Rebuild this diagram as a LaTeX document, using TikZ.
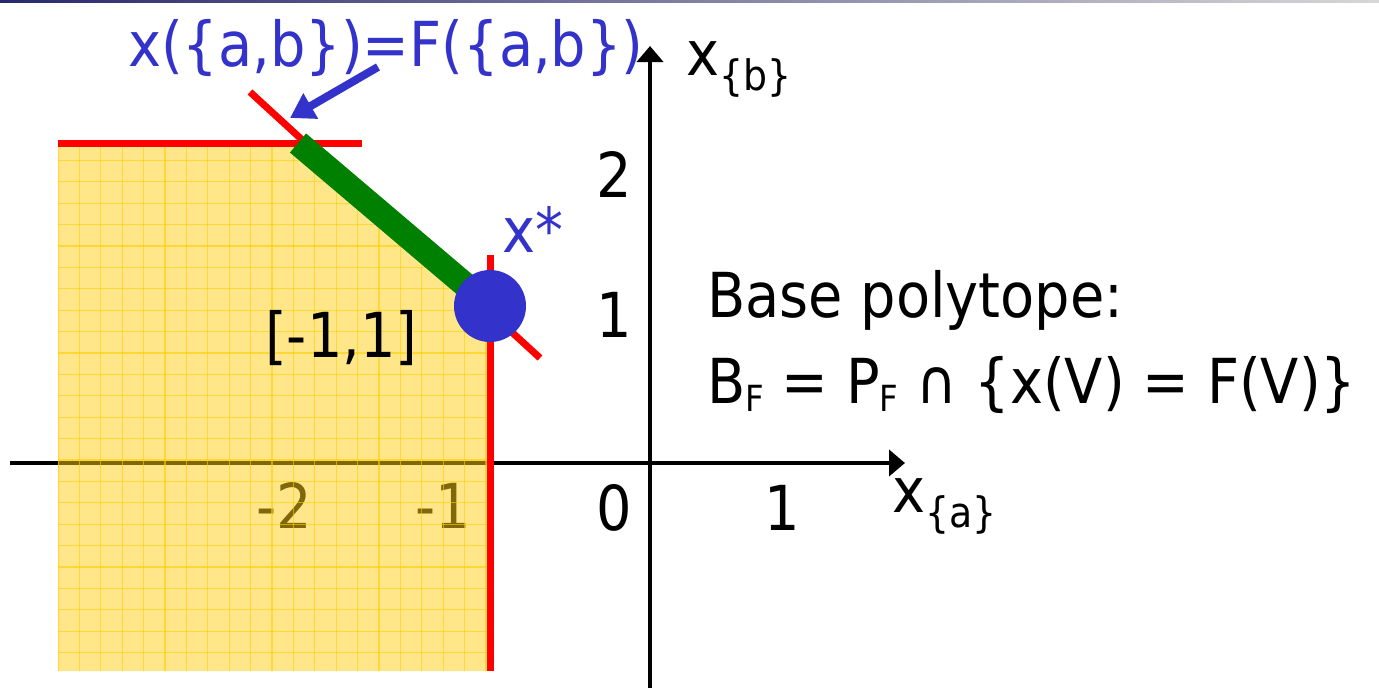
\documentclass[tikz,border=0pt]{standalone}
\usepackage{fontspec}
\setmainfont{DejaVu Sans Condensed}
\usetikzlibrary{arrows.meta}

\definecolor{polyred}{RGB}{255,0,0}
\definecolor{basegreen}{RGB}{0,128,0}
\definecolor{starblue}{RGB}{51,51,204}
\definecolor{boxyellow}{RGB}{255,208,20}
\definecolor{gridyellow}{RGB}{255,205,0}
\definecolor{barnavy}{RGB}{40,40,110}
\definecolor{bargray}{RGB}{215,215,215}

\newcommand{\bigfont}{\fontsize{62}{70}\selectfont}
\newcommand{\axsub}[1]{\raisebox{-15pt}{\fontsize{42}{46}\selectfont\{#1\}}}
\newcommand{\lowF}[1]{\raisebox{-8pt}{\fontsize{36}{38}\selectfont #1}}

\begin{document}
\begin{tikzpicture}[x=1pt, y=-1pt,
  axis/.style={line width=4pt, -{Triangle[length=16pt,width=26pt]}},
  bound/.style={polyred, line width=7pt},
  gridline/.style={gridyellow, line width=1.3pt, opacity=0.6},
  pointer/.style={starblue, line width=8pt, -{Triangle[length=24pt,width=28pt]}},
  lbl/.style={inner sep=0pt, font=\bigfont, anchor=base west}]
  \useasboundingbox (0,0) rectangle (1379,688);
  % header bar
  \shade[left color=barnavy, right color=bargray] (0,0) rectangle (1379,2.5);

  % axes
  \coordinate (xleft) at (10,463);  \coordinate (xtip) at (905,463);
  \coordinate (ybot) at (650,688);  \coordinate (ytip) at (650,46);
  \draw[axis] (xleft) -- (xtip);
  \draw[axis] (ybot) -- (ytip);

  % tick labels
  \node[lbl, anchor=base east] (tmtwo) at (312,528) {-2};
  \node[lbl, anchor=base east] (tmone) at (471,528) {-1};
  \node[lbl, anchor=base east] (tzero) at (632,530) {0};
  \node[lbl, anchor=base east] (tonex) at (800,530) {1};
  \node[lbl, anchor=base east] (toney) at (632,337) {1};
  \node[lbl, anchor=base east] (ttwo) at (632,197) {2};
  \node[lbl] (xalbl) at (892,512) {x\axsub{a}};
  \node[lbl] (xblbl) at (686,75) {x\axsub{b}};

  % polytope region
  \coordinate (pTL) at (58,143);  \coordinate (pDg) at (298,143);
  \coordinate (pX) at (490,306);  \coordinate (pBR) at (490,671);
  \coordinate (pBL) at (58,671);
  \fill[boxyellow, fill opacity=0.5] (pTL) -- (pDg) -- (pX) -- (pBR) -- (pBL) -- cycle;
  \begin{scope}
    \clip (pTL) -- (pDg) -- (pX) -- (pBR) -- (pBL) -- cycle;
    \foreach \gx in {0,...,20}
      \draw[gridline] ({58+21.4*\gx},139) -- ++(0,540);
    \foreach \gy in {0,...,25}
      \draw[gridline] (58,{139+21.4*\gy}) -- ++(440,0);
  \end{scope}
  \node[lbl] (range) at (265,357) {[-1,1]};

  % constraints
  \coordinate (capL) at (58,143);   \coordinate (capR) at (362,143);
  \coordinate (diagA) at (250,92);  \coordinate (diagB) at (540,358);
  \coordinate (vertT) at (490,255); \coordinate (vertB) at (490,671);
  \draw[bound] (capL) -- (capR);
  \draw[bound] (diagA) -- (diagB);
  \draw[bound] (vertT) -- (vertB);

  % base polytope edge and x*
  \draw[basegreen, line width=25pt] (pDg) -- (pX);
  \node[circle, fill=starblue, minimum size=72pt, inner sep=0pt] (xstar) at (pX) {};
  \node[lbl, text=starblue] (xstarlbl) at (502,252) {x*};

  % face label
  \node[lbl, text=starblue] (facelbl) at (128,66) {x(\{a,b\})=F(\{a,b\})};
  \coordinate (arrowtail) at (378,67);
  \coordinate (arrowtip) at (290,118);
  \draw[pointer] (arrowtail) -- (arrowtip);

  % definition
  \node[lbl] (basettl) at (707,317) {Base polytope:};
  \node[lbl] (basedef) at (707,403) {B\lowF{F} = P\lowF{F} ∩ \{x(V) = F(V)\}};
\end{tikzpicture}
\end{document}
